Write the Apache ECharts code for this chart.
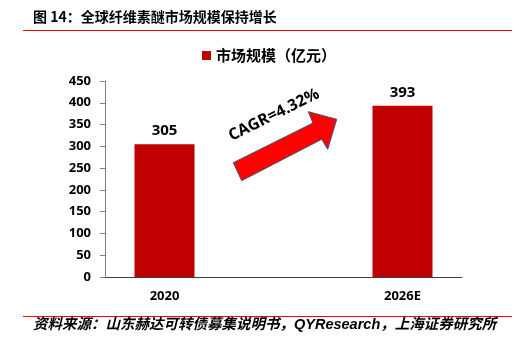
<!DOCTYPE html>
<html><head><meta charset="utf-8">
<script src="https://cdn.jsdelivr.net/npm/echarts@6/dist/echarts.min.js"></script>
<style>html,body{margin:0;padding:0;background:#fff}#c{width:519px;height:353px}</style>
</head><body><div id="c"></div>
<script>
const titleText = '图 14：全球纤维素醚市场规模保持增长';
const sourceText = '资料来源：山东赫达可转债募集说明书，QYResearch，上海证券研究所';
const seriesName = '市场规模（亿元）';
const categories = ['2020', '2026E'];
const values = [305, 393];
const yTicks = [0, 50, 100, 150, 200, 250, 300, 350, 400, 450];
const cagrText = 'CAGR=4.32%';

const chart = echarts.init(document.getElementById('c'), null, {renderer: 'canvas'});
const latin = '"Open Sans", "Noto Sans CJK SC", sans-serif';
const cjk = '"Noto Sans CJK SC", sans-serif';
chart.setOption({
  animation: false,
  textStyle: {fontFamily: latin},
  grid: {left: 105, right: 57, top: 81, bottom: 76, containLabel: false},
  legend: {
    data: [seriesName], left: 197, top: 43, itemWidth: 9, itemHeight: 9, itemGap: 4,
    icon: 'rect',
    textStyle: {fontFamily: cjk, fontWeight: 'bold', fontSize: 15, color: '#000'}
  },
  xAxis: {
    type: 'value', min: -0.25, max: 1.25, interval: 0.25,
    splitLine: {show: false},
    axisLine: {show: true, onZero: false, lineStyle: {color: '#404040', width: 1}},
    axisTick: {show: false},
    axisLabel: {
      margin: 13, fontSize: 13, fontWeight: 'bold', color: '#000', fontFamily: latin,
      showMinLabel: true, showMaxLabel: true,
      formatter: v => (Math.abs(v - Math.round(v)) < 1e-6 && categories[Math.round(v)] !== undefined) ? categories[Math.round(v)] : ''
    }
  },
  yAxis: {
    type: 'value', min: yTicks[0], max: yTicks[yTicks.length - 1], interval: yTicks[1] - yTicks[0],
    splitLine: {show: false},
    axisLine: {show: true, onZero: false, lineStyle: {color: '#808080', width: 1}},
    axisTick: {show: true, length: 5, inside: false, lineStyle: {color: '#808080'}},
    axisLabel: {margin: 14, fontSize: 13, fontWeight: 'bold', color: '#000', fontFamily: latin}
  },
  series: [{
    name: seriesName, type: 'bar', barWidth: 60,
    itemStyle: {color: '#C00000'},
    label: {show: true, position: 'top', distance: 6, fontSize: 15, fontWeight: 'bold', color: '#000', fontFamily: latin},
    data: values.map((v, i) => [i, v])
  }],
  graphic: [
    {type: 'text', left: 33, top: 10, style: {text: titleText, fontFamily: cjk, fontWeight: 'bold', fontSize: 14, fill: '#000'}},
    {type: 'line', shape: {x1: 23, y1: 30.5, x2: 512, y2: 30.5}, style: {stroke: '#FF0000', lineWidth: 1}},
    {type: 'line', shape: {x1: 23, y1: 316.5, x2: 512, y2: 316.5}, style: {stroke: '#FF0000', lineWidth: 1}},
    {type: 'text', left: 33, top: 318, style: {text: sourceText, fontFamily: 'Liberation Sans, "Noto Sans CJK SC", sans-serif', fontWeight: 'bold', fontStyle: 'italic', fontSize: 14.5, fill: '#000'}},
    {type: 'polygon', shape: {points: [[233.3,162.7],[313,123],[308.3,111.7],[336.7,119.3],[327.7,149.3],[321.7,139.3],[241.7,180.7]]},
     style: {fill: '#FF0000', stroke: '#3A5570', lineWidth: 1}},
    {type: 'text', x: 274, y: 115, rotation: 0.46,
     style: {text: cagrText, fontFamily: latin, fontWeight: 'bold', fontSize: 16, fill: '#000', align: 'center', verticalAlign: 'middle'}}
  ]
});
</script></body></html>
